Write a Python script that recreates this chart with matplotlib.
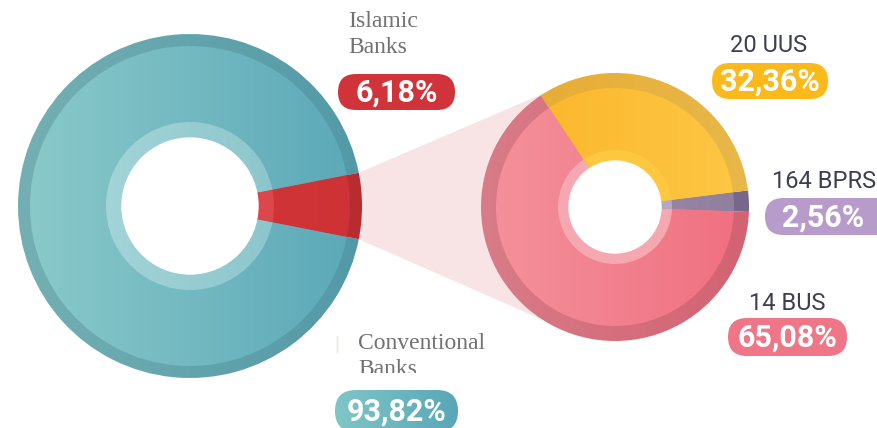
import numpy as np
import matplotlib
matplotlib.use("Agg")
import matplotlib.pyplot as plt
from matplotlib.patches import Wedge, Circle, Polygon, FancyBboxPatch, Rectangle
from matplotlib.colors import LinearSegmentedColormap

# data
main_labels = ["Conventional\nBanks", "Islamic\nBanks"]
main_shares = [93.82, 6.18]
sub_labels = ["164 BPRS", "20 UUS", "14 BUS"]
sub_shares = [2.56, 32.36, 65.08]
main_badges = ["93,82%", "6,18%"]
sub_badges = ["2,56%", "32,36%", "65,08%"]

# colours: (main left, main right), (band left, band right), ring
main_cols = [
    (("#8bcaca", "#5ba8b8"), ("#74b0b3", "#5299a7"), ("#a2d4d8", "#8cc6cc")),
    (("#d23a3e", "#cf3235"), ("#bd2e31", "#b82b2e"), ("#dc474c", "#dc474c")),
]
sub_cols = [
    (("#a394ae", "#8f7f9e"), ("#8a7a98", "#77678a"), ("#b2aac2", "#b2aac2")),
    (("#fbb426", "#fdc745"), ("#e7aa30", "#e8b84a"), ("#fdc840", "#fdc840")),
    (("#f4929c", "#f06f80"), ("#d87c88", "#d36272"), ("#f6a8b1", "#f6a8b1")),
]

fig = plt.figure(figsize=(8.77, 4.28), dpi=100)
ax = fig.add_axes([0, 0, 1, 1])
ax.set_xlim(0, 877)
ax.set_ylim(428, 0)
ax.set_aspect("equal")
ax.axis("off")


def grad_fill(patch, c1, c2, x0, x1, y0, y1, z):
    cmap = LinearSegmentedColormap.from_list("g", [c1, c2])
    g = np.linspace(0, 1, 256).reshape(1, -1)
    im = ax.imshow(g, cmap=cmap, extent=(x0, x1, y1, y0), aspect="auto",
                   zorder=z, interpolation="bilinear")
    ax.add_patch(patch)
    patch.set_visible(False)
    im.set_clip_path(patch)


def donut(cx, cy, r_out, r_band, r_ring, r_hole, shares, cols, start):
    # start is visual angle (counter-clockwise); y axis is inverted
    a = start
    for s, (body, band, ring) in zip(shares, cols):
        b = a + s * 3.6
        t1, t2 = -b, -a
        w = Wedge((cx, cy), r_out, t1, t2)
        grad_fill(w, band[0], band[1], cx - r_out, cx + r_out, cy - r_out, cy + r_out, 2)
        w = Wedge((cx, cy), r_band, t1, t2)
        grad_fill(w, body[0], body[1], cx - r_out, cx + r_out, cy - r_out, cy + r_out, 3)
        w = Wedge((cx, cy), r_ring, t1, t2)
        grad_fill(w, ring[0], ring[1], cx - r_ring, cx + r_ring, cy - r_ring, cy + r_ring, 4)
        a = b
    ax.add_patch(Circle((cx, cy), r_hole, color="white", zorder=5))


# left donut, red slice centred on the right
lcx, lcy, lR = 190, 206, 172
half = main_shares[1] * 3.6 / 2
donut(lcx, lcy, lR, 160, 84, 68, main_shares, main_cols, half)

# right donut
rcx, rcy, rR = 615, 207, 134
donut(rcx, rcy, rR, 119, 57, 46, sub_shares, sub_cols, -2.1)

# connector
ya = lR * np.sin(np.radians(half))
xa = lcx + lR * np.cos(np.radians(half))
conn = [(xa, lcy - ya),
        (rcx + rR * np.cos(np.radians(121.6)), rcy - rR * np.sin(np.radians(121.6))),
        (rcx + rR * np.cos(np.radians(-122.4)), rcy - rR * np.sin(np.radians(-122.4))),
        (xa, lcy + ya)]
ax.add_patch(Polygon(conn, closed=True, color="#f9e4e5", zorder=1, lw=0))


def badge(x0, x1, y0, y1, text, c1, c2=None, tx=None):
    h = y1 - y0
    p = FancyBboxPatch((x0, y0), x1 - x0, h,
                       boxstyle="round,pad=0,rounding_size=%f" % (h / 2),
                       lw=0, color=c1, zorder=6)
    if c2 is None:
        ax.add_patch(p)
    else:
        grad_fill(p, c1, c2, x0, x1, y0, y1, 6)
    if tx is None:
        tx = (x0 + x1) / 2
    ax.text(tx, (y0 + y1) / 2 + 1, text, ha="center", va="center", color="white",
            fontsize=22, fontweight="bold", family="Roboto", zorder=7)


serif = "Liberation Serif"
grey = "#717171"
sans_col = "#3e3e52"

# Islamic banks
ax.text(348, 11, main_labels[1], fontsize=17, family=serif, color=grey,
        va="top", linespacing=1.3, zorder=7)
badge(338, 455, 74, 110, main_badges[1], "#d0343a")

# Conventional banks (second line cut off as in the source)
t = ax.text(358, 333, main_labels[0], fontsize=17, family=serif, color=grey,
            va="top", linespacing=1.3, zorder=7, clip_on=True)
clip = Rectangle((300, 320), 250, 53, transform=ax.transData)
t.set_clip_path(clip)
ax.plot([337, 337], [336, 352], color="#efe6d6", lw=1, zorder=7)
badge(335, 458, 390, 432, main_badges[0], "#80c6c6", "#58a6b8")

# sub labels
ax.text(769, 45, sub_labels[1], fontsize=17, family="Roboto", color=sans_col,
        ha="center", va="center", zorder=7)
badge(712, 828, 63, 99, sub_badges[1], "#fbb91b")

ax.text(824, 181, sub_labels[0], fontsize=17, family="Roboto", color=sans_col,
        ha="center", va="center", zorder=7)
badge(765, 895, 198, 235, sub_badges[0], "#b79ccb", tx=823)

ax.text(787, 304, sub_labels[2], fontsize=17, family="Roboto", color=sans_col,
        ha="center", va="center", zorder=7)
badge(728, 847, 318, 356, sub_badges[2], "#ef7686")

fig.savefig("out.png", dpi=100)
